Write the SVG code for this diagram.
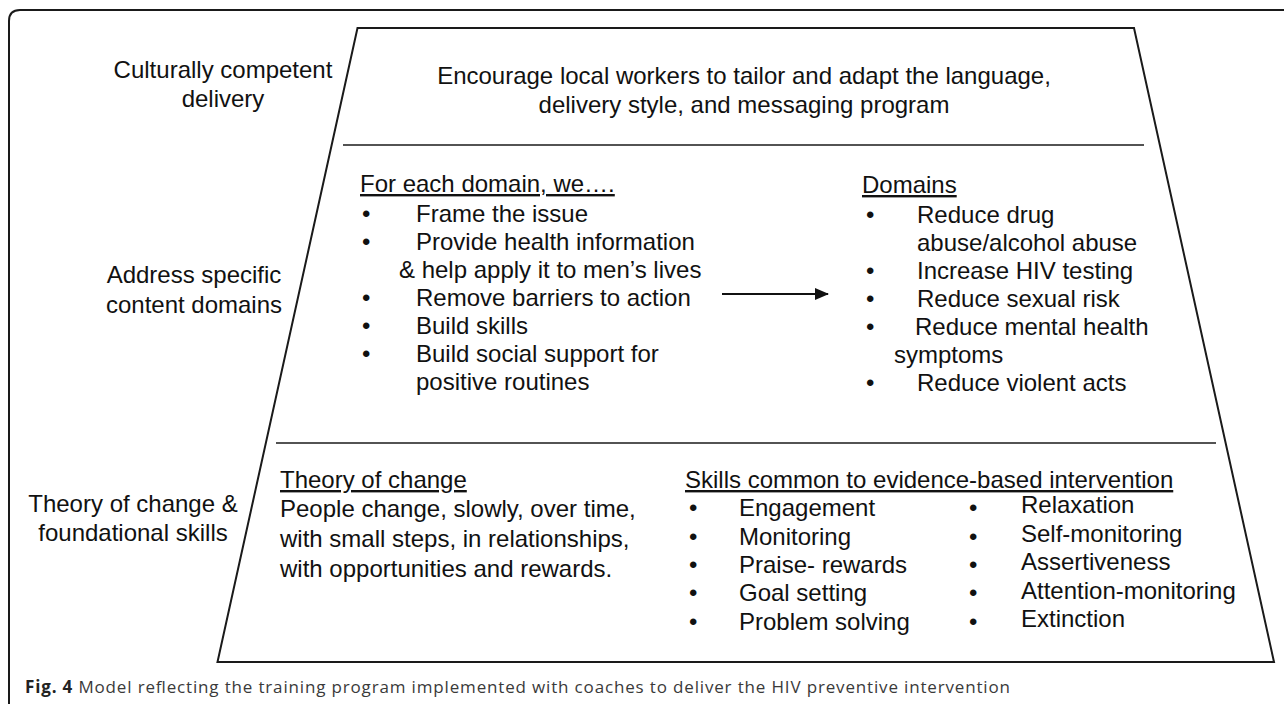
<svg xmlns="http://www.w3.org/2000/svg" width="1284" height="704" viewBox="0 0 1284 704">
<defs>
<style>
.t{font-family:"Liberation Sans",Arial,Helvetica,sans-serif;font-size:24px;fill:#111}
.c{text-anchor:middle}
.u{text-decoration:underline}
.div{stroke:#1a1a1a;stroke-width:1.5;fill:none}
.edge{stroke:#1a1a1a;stroke-width:2;fill:none;stroke-linejoin:miter}
.cap{font-family:"Open Sans","Liberation Sans",sans-serif;font-size:17px;fill:#3a3a3a}
.capb{font-weight:bold;fill:#222}
</style>
<marker id="ah" markerWidth="14" markerHeight="12" refX="13" refY="6" orient="auto" markerUnits="userSpaceOnUse">
<path d="M0,0 L14,6 L0,12 z" fill="#111"/>
</marker>
</defs>
<rect width="1284" height="704" fill="#ffffff"/>
<g id="frame">
<path class="edge" d="M9,704 V21 Q9,10 20,10 H1284"/>
</g>
<g id="trapezoid">
<path class="edge" d="M357.5,28 L1134,28 L1274,662 L217.5,662 Z"/>
<line class="div" x1="343" y1="145" x2="1144" y2="145"/>
<line class="div" x1="276" y1="443" x2="1216" y2="443"/>
</g>
<g id="label-cultural">
<text class="t c" x="223" y="78">Culturally competent</text>
<text class="t c" x="223" y="107">delivery</text>
</g>
<g id="label-address">
<text class="t c" x="194" y="283">Address specific</text>
<text class="t c" x="194" y="313">content domains</text>
</g>
<g id="label-theory">
<text class="t c" x="133" y="512">Theory of change &amp;</text>
<text class="t c" x="133" y="541">foundational skills</text>
</g>
<g id="node-delivery">
<text class="t c" x="744" y="84">Encourage local workers to tailor and adapt the language,</text>
<text class="t c" x="744" y="113">delivery style, and messaging program</text>
</g>
<g id="node-steps">
<text class="t u" x="360" y="192">For each domain, we….</text>
<text class="t" x="362" y="222">•</text>
<text class="t" x="416" y="222">Frame the issue</text>
<text class="t" x="362" y="250">•</text>
<text class="t" x="416" y="250">Provide health information</text>
<text class="t" x="399" y="278">&amp; help apply it to men’s lives</text>
<text class="t" x="362" y="306">•</text>
<text class="t" x="416" y="306">Remove barriers to action</text>
<text class="t" x="362" y="334">•</text>
<text class="t" x="416" y="334">Build skills</text>
<text class="t" x="362" y="362">•</text>
<text class="t" x="416" y="362">Build social support for</text>
<text class="t" x="416" y="390">positive routines</text>
</g>
<g id="node-domains">
<text class="t u" x="862" y="193">Domains</text>
<text class="t" x="866" y="223">•</text>
<text class="t" x="917" y="223">Reduce drug</text>
<text class="t" x="917" y="251">abuse/alcohol abuse</text>
<text class="t" x="866" y="279">•</text>
<text class="t" x="917" y="279">Increase HIV testing</text>
<text class="t" x="866" y="307">•</text>
<text class="t" x="917" y="307">Reduce sexual risk</text>
<text class="t" x="866" y="335">•</text>
<text class="t" x="915" y="335">Reduce mental health</text>
<text class="t" x="894" y="363">symptoms</text>
<text class="t" x="866" y="391">•</text>
<text class="t" x="917" y="391">Reduce violent acts</text>
</g>
<g id="node-theory">
<text class="t u" x="280" y="488">Theory of change</text>
<text class="t" x="280" y="517">People change, slowly, over time,</text>
<text class="t" x="280" y="547">with small steps, in relationships,</text>
<text class="t" x="280" y="577">with opportunities and rewards.</text>
</g>
<g id="node-skills">
<text class="t u" x="685" y="488">Skills common to evidence-based intervention</text>
<text class="t" x="689" y="516">•</text>
<text class="t" x="739" y="516">Engagement</text>
<text class="t" x="689" y="545">•</text>
<text class="t" x="739" y="545">Monitoring</text>
<text class="t" x="689" y="573">•</text>
<text class="t" x="739" y="573">Praise- rewards</text>
<text class="t" x="689" y="601">•</text>
<text class="t" x="739" y="601">Goal setting</text>
<text class="t" x="689" y="630">•</text>
<text class="t" x="739" y="630">Problem solving</text>
<text class="t" x="969" y="516">•</text>
<text class="t" x="1021" y="513">Relaxation</text>
<text class="t" x="969" y="545">•</text>
<text class="t" x="1021" y="542">Self-monitoring</text>
<text class="t" x="969" y="573">•</text>
<text class="t" x="1021" y="570">Assertiveness</text>
<text class="t" x="969" y="601">•</text>
<text class="t" x="1021" y="599">Attention-monitoring</text>
<text class="t" x="969" y="630">•</text>
<text class="t" x="1021" y="627">Extinction</text>
</g>
<g id="connectors">
<line x1="722" y1="294" x2="828" y2="294" stroke="#111" stroke-width="2" marker-end="url(#ah)"/>
</g>
<g id="caption">
<text class="cap" x="25" y="693" textLength="985"><tspan class="capb">Fig. 4</tspan> Model reflecting the training program implemented with coaches to deliver the HIV preventive intervention</text>
</g>
</svg>
